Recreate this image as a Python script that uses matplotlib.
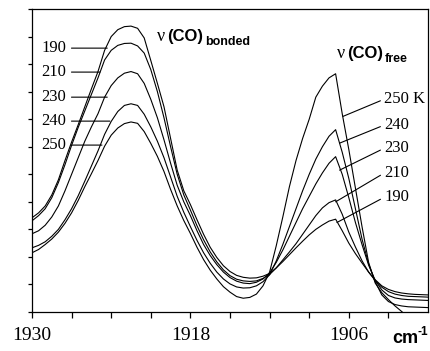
import matplotlib
matplotlib.use('Agg')
import matplotlib.pyplot as plt

# wavenumber grid (cm-1) and absorbance traces (arb. units)
wavenumber = [1930, 1929.5, 1929, 1928.5, 1928, 1927.5, 1927, 1926.5, 1926, 1925.5,
              1925, 1924.5, 1924, 1923.5, 1923, 1922.5, 1922, 1921.5, 1921, 1920.5,
              1920, 1919.5, 1919, 1918.5, 1918, 1917.5, 1917, 1916.5, 1916, 1915.5,
              1915, 1914.5, 1914, 1913.5, 1913, 1912.5, 1912, 1911.5, 1911, 1910.5,
              1910, 1909.5, 1909, 1908.5, 1908, 1907.5, 1907, 1906.5, 1906, 1905.5,
              1905, 1904.5, 1904, 1903.5, 1903, 1902.5, 1902, 1901.5, 1901, 1900.5,
              1900]

abs_190 = [3.42, 3.6, 3.85, 4.25, 4.8, 5.5, 6.17, 6.8, 7.45, 8.1,
           8.73, 9.5, 10.0, 10.25, 10.36, 10.38, 10.3, 9.95, 9.13, 8.3,
           7.45, 6.3, 5.15, 4.4, 3.9, 3.35, 2.82, 2.35, 1.98, 1.68,
           1.47, 1.33, 1.26, 1.23, 1.24, 1.3, 1.4, 1.6, 1.83, 2.08,
           2.33, 2.57, 2.8, 3.0, 3.16, 3.3, 3.37, 2.95, 2.5, 2.12,
           1.78, 1.45, 1.17, 0.95, 0.82, 0.74, 0.69, 0.66, 0.64, 0.63,
           0.62]
abs_210 = [3.31, 3.5, 3.75, 4.15, 4.7, 5.35, 6.05, 6.7, 7.3, 7.9,
           8.5, 9.15, 9.5, 9.68, 9.75, 9.76, 9.66, 9.4, 8.8, 8.0,
           7.05, 6.0, 5.0, 4.25, 3.7, 3.13, 2.62, 2.18, 1.82, 1.53,
           1.32, 1.19, 1.13, 1.11, 1.13, 1.22, 1.36, 1.6, 1.89, 2.18,
           2.48, 2.82, 3.16, 3.5, 3.78, 3.97, 4.07, 3.55, 2.9, 2.36,
           1.86, 1.45, 1.14, 0.9, 0.74, 0.65, 0.6, 0.57, 0.56, 0.55,
           0.54]
abs_230 = [2.84, 2.95, 3.15, 3.45, 3.85, 4.4, 5.0, 5.6, 6.2, 6.72,
           7.2, 7.8, 8.22, 8.5, 8.67, 8.73, 8.65, 8.3, 7.72, 7.05,
           6.25, 5.4, 4.6, 4.0, 3.5, 2.95, 2.45, 2.05, 1.72, 1.45,
           1.25, 1.12, 1.05, 1.03, 1.08, 1.2, 1.42, 1.8, 2.25, 2.75,
           3.25, 3.75, 4.2, 4.65, 5.05, 5.4, 5.64, 5.0, 4.15, 3.25,
           2.45, 1.7, 1.15, 0.8, 0.6, 0.51, 0.47, 0.45, 0.44, 0.43,
           0.42]
abs_240 = [2.33, 2.42, 2.55, 2.75, 3.0, 3.35, 3.75, 4.22, 4.75, 5.3,
           5.85, 6.45, 6.92, 7.28, 7.5, 7.56, 7.5, 7.18, 6.72, 6.2,
           5.6, 4.9, 4.2, 3.62, 3.1, 2.6, 2.15, 1.77, 1.45, 1.2,
           1.02, 0.91, 0.87, 0.88, 0.95, 1.1, 1.35, 1.85, 2.45, 3.1,
           3.75, 4.4, 5.0, 5.55, 6.0, 6.38, 6.62, 5.8, 4.85, 3.75,
           2.65, 1.75, 1.1, 0.62, 0.38, 0.27, 0.22, 0.19, 0.18, 0.17,
           0.16]
abs_250 = [2.15, 2.27, 2.45, 2.65, 2.9, 3.22, 3.6, 4.05, 4.55, 5.02,
           5.5, 6.02, 6.42, 6.68, 6.84, 6.9, 6.85, 6.55, 6.12, 5.65,
           5.1, 4.45, 3.85, 3.32, 2.85, 2.35, 1.9, 1.52, 1.2, 0.92,
           0.72, 0.56, 0.5, 0.53, 0.65, 0.95, 1.45, 2.4, 3.45, 4.55,
           5.5, 6.3, 7.0, 7.8, 8.2, 8.5, 8.65, 7.2, 5.9, 4.5,
           3.1, 1.8, 1.05, 0.7, 0.45, 0.22, 0.02, -0.2, -0.4, -0.6,
           -0.8]

traces = [abs_190, abs_210, abs_230, abs_240, abs_250]

x_ticks = [1930, 1927, 1924, 1921, 1918, 1915, 1912, 1909, 1906, 1903]
x_ticklabels = ['1930', '', '', '', '1918', '', '', '', '1906', '']

# temperature labels: text, text y, end of leader line
left_labels = ['190', '210', '230', '240', '250']
left_text_y = [9.58, 8.71, 7.80, 6.93, 6.06]
left_end_x = [1924.3, 1924.85, 1924.3, 1924.1, 1924.7]

right_labels = ['250 K', '240', '230', '210', '190']
right_text_y = [7.73, 6.79, 5.95, 5.05, 4.17]
right_end = [(1906.45, 7.1), (1906.70, 6.13), (1906.70, 5.15),
             (1907.0, 4.0), (1906.9, 3.25)]

serif = 'Liberation Serif'
sans = 'Liberation Sans'


def co_label(ax, x, y, sub):
    ax.text(x, y, 'ν', family=serif, fontsize=13, va='baseline', ha='left')
    ax.annotate('(CO)', xy=(x, y), xytext=(7.5, 0), textcoords='offset points',
                family=sans, fontweight='bold', fontsize=12, va='baseline', ha='left')
    ax.annotate(sub, xy=(x, y), xytext=(34.5, -3), textcoords='offset points',
                family=sans, fontweight='bold', fontsize=9, va='baseline', ha='left')


def main():
    fig = plt.figure(figsize=(4.30, 3.51), dpi=100)
    ax = fig.add_axes([0.0744, 0.1111, 0.921, 0.8632])

    for trace in traces:
        ax.plot(wavenumber, trace, color='black', lw=0.8)

    ax.set_xlim(1930, 1900)
    ax.set_ylim(0, 11)
    ax.set_xticks(x_ticks)
    ax.set_xticklabels(x_ticklabels, family=serif, fontsize=14)
    ax.set_yticks(range(0, 12))
    ax.set_yticklabels([])
    ax.tick_params(axis='x', direction='out', length=4, width=0.9, pad=7)
    ax.tick_params(axis='y', direction='out', length=3, width=0.9)
    for side in ['left', 'bottom', 'top', 'right']:
        ax.spines[side].set_linewidth(0.9)

    for lbl, ty, ex in zip(left_labels, left_text_y, left_end_x):
        ax.annotate(lbl, xy=(ex, ty), xytext=(1927.43, ty), family=serif, fontsize=12,
                    ha='right', va='center',
                    arrowprops=dict(arrowstyle='-', color='black', lw=0.8,
                                    relpos=(1, 0.5), shrinkA=2, shrinkB=0))

    for lbl, ty, end in zip(right_labels, right_text_y, right_end):
        ax.annotate(lbl, xy=end, xytext=(1903.3, ty), family=serif, fontsize=12,
                    ha='left', va='center',
                    arrowprops=dict(arrowstyle='-', color='black', lw=0.8,
                                    relpos=(0, 0.5), shrinkA=1, shrinkB=0))

    co_label(ax, 1920.54, 9.84, 'bonded')
    co_label(ax, 1906.93, 9.22, 'free')

    ax.text(0.909, -0.102, 'cm', transform=ax.transAxes, family=sans,
            fontweight='bold', fontsize=13, va='baseline', ha='left')
    ax.annotate('-1', xy=(0.909, -0.102), xycoords='axes fraction', xytext=(18.5, 6),
                textcoords='offset points', family=sans, fontweight='bold',
                fontsize=8.5, va='baseline', ha='left', annotation_clip=False)

    fig.savefig('out.png', dpi=100)
    plt.close(fig)


if __name__ == "__main__":
    main()
